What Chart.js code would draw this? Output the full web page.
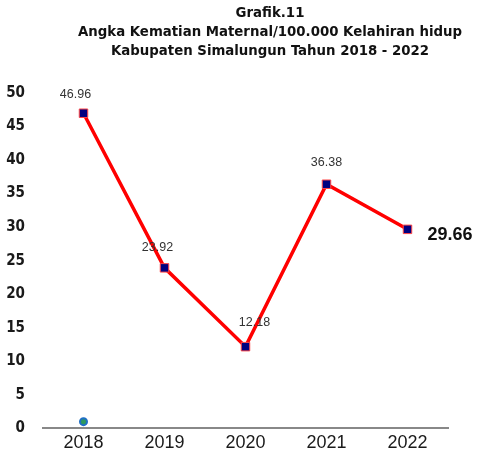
<!DOCTYPE html>
<html lang="id">
<head>
    <meta charset="UTF-8">
    <title>Grafik.11 Angka Kematian Maternal</title>
    <style>
        html, body {
            margin: 0;
            padding: 0;
            background: #ffffff;
        }
        .wrap {
            width: 477px;
            height: 459px;
        }
    </style>
</head>
<body>
    <div class="wrap">
        <canvas id="akiChart" width="477" height="459"></canvas>
    </div>

    <script src="https://cdn.jsdelivr.net/npm/chart.js"></script>
    <script>
        // data dari grafik
        const tahun = ['2018', '2019', '2020', '2021', '2022'];
        const angkaKematian = [46.96, 23.92, 12.18, 36.38, 29.66];
        const titikBiru = [1, null, null, null, null];
        const yTicks = [0, 5, 10, 15, 20, 25, 30, 35, 40, 45, 50];
        const judul = [
            'Grafik.11',
            'Angka Kematian Maternal/100.000 Kelahiran hidup',
            'Kabupaten Simalungun Tahun 2018 - 2022'
        ];

        // geseran label (dx, dy) relatif ke titik
        const labelOffset = [[-8, -19], [-7, -20], [9, -24], [0, -22], [20, 6]];

        const labelPlugin = {
            id: 'labelNilai',
            afterLayout(chart) {
                // judul di gambar asli agak ke kanan
                const tb = chart.titleBlock;
                const geser = 270 - (tb.left + tb.right) / 2;
                tb.left += geser;
                tb.right += geser;
            },
            afterDatasetsDraw(chart) {
                const ctx = chart.ctx;
                const meta = chart.getDatasetMeta(0);
                ctx.save();
                meta.data.forEach((pt, i) => {
                    const last = i === angkaKematian.length - 1;
                    const [dx, dy] = labelOffset[i];
                    ctx.fillStyle = last ? '#111111' : '#333333';
                    ctx.font = last ? 'bold 18px "Liberation Sans", Arial, sans-serif'
                                    : '12.5px "Liberation Sans", Arial, sans-serif';
                    ctx.textAlign = last ? 'left' : 'center';
                    ctx.textBaseline = 'middle';
                    ctx.fillText(angkaKematian[i].toFixed(2), pt.x + dx, pt.y + dy);
                });
                ctx.restore();
            }
        };

        new Chart(document.getElementById('akiChart'), {
            type: 'line',
            data: {
                labels: tahun,
                datasets: [{
                    data: angkaKematian,
                    borderColor: '#ff0000',
                    borderWidth: 3.5,
                    pointStyle: 'rect',
                    pointRadius: 6,
                    pointBackgroundColor: '#000080',
                    pointBorderColor: '#ff4848',
                    pointBorderWidth: 1,
                    tension: 0
                }, {
                    data: titikBiru,
                    showLine: false,
                    pointStyle: 'circle',
                    pointRadius: 3.5,
                    pointBackgroundColor: '#2e9a5e',
                    pointBorderColor: '#1f6fc4',
                    pointBorderWidth: 2
                }]
            },
            options: {
                responsive: false,
                animation: false,
                layout: {
                    padding: { left: 0, right: 29, top: 4, bottom: 1 }
                },
                plugins: {
                    legend: { display: false },
                    tooltip: { enabled: false },
                    title: {
                        display: true,
                        text: judul,
                        color: '#111111',
                        font: { family: '"DejaVu Sans Condensed", sans-serif', size: 14.8, weight: 'bold', lineHeight: 1.28 },
                        padding: { top: 0, bottom: 32 }
                    }
                },
                scales: {
                    x: {
                        offset: true,
                        grid: { display: false, drawTicks: false },
                        border: { display: true, color: '#888888', width: 2 },
                        ticks: {
                            color: '#1a1a1a',
                            padding: 4,
                            font: { family: '"Liberation Sans", Arial, sans-serif', size: 18 }
                        }
                    },
                    y: {
                        min: 0,
                        max: 50,
                        afterBuildTicks(axis) {
                            axis.ticks = yTicks.map(v => ({ value: v }));
                        },
                        afterFit(axis) {
                            axis.width = 43;
                        },
                        grid: { display: false, drawTicks: false },
                        border: { display: false },
                        ticks: {
                            color: '#1a1a1a',
                            padding: 18,
                            font: { family: '"DejaVu Sans Condensed", sans-serif', size: 15, weight: 'bold' }
                        }
                    }
                }
            },
            plugins: [labelPlugin]
        });
    </script>
</body>
</html>
